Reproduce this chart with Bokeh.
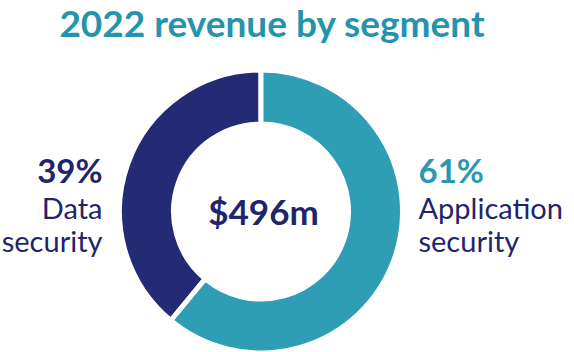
from bokeh.plotting import figure
from bokeh.models import ColumnDataSource, Range1d
from bokeh.core.properties import value
from bokeh.embed import file_html
from bokeh.resources import INLINE
import math

# ---- data ----
title_text = "2022 revenue by segment"
total_label = "$496m"
segments = ["Data security", "Application security"]
seg_line1 = ["Data", "Application"]
seg_line2 = ["security", "security"]
shares = [39, 61]
colors = ["#252a74", "#2f9db3"]
pct_colors = ["#1f246b", "#2a98ae"]

W, H = 574, 352
FONT = "Lato"
cx, cy = 260.5, H - 211
r_out, r_in = 139, 90
gap = 5

p = figure(width=W, height=H, output_backend="svg", toolbar_location=None,
           x_range=Range1d(0, W), y_range=Range1d(0, H), min_border=0)
p.axis.visible = False
p.grid.visible = False
p.outline_line_color = None
p.background_fill_color = "white"
p.border_fill_color = "white"

# donut: first segment anticlockwise from top, second fills the rest
total = sum(shares)
starts, ends = [], []
a = math.pi / 2
for s in shares:
    span = 2 * math.pi * s / total
    starts.append(a)
    ends.append(a + span)
    a += span
src = ColumnDataSource(dict(start=starts, end=ends, color=colors))
p.annular_wedge(x=cx, y=cy, inner_radius=r_in - gap / 2, outer_radius=r_out + gap / 2,
                start_angle="start", end_angle="end", fill_color="color",
                line_color="white", line_width=gap, source=src,
                inner_radius_units="screen", outer_radius_units="screen")


def ty(baseline, fs):
    # screen baseline -> data y (empirical correction for renderer offset)
    return H - (baseline - 0.33 * fs)


# title
p.text(x=[272], y=[ty(34, 37)], text=[title_text], text_font=value(FONT),
       text_font_style="bold", text_font_size="37px", text_color="#2593ab",
       text_align="center", text_baseline="alphabetic")

# centre total
p.text(x=[263], y=[ty(222, 35)], text=[total_label], text_font=value(FONT),
       text_font_style="bold", text_font_size="35px", text_color="#1f246b",
       text_align="center", text_baseline="alphabetic")

# segment labels
lx = [102, 418]
aligns = ["right", "left"]
pct_src = ColumnDataSource(dict(x=lx, y=[ty(180, 33)] * 2, t=[f"{s}%" for s in shares],
                                c=pct_colors, a=aligns))
p.text(x="x", y="y", text="t", text_color="c", text_align="a", source=pct_src,
       text_font=value(FONT), text_font_style="bold", text_font_size="33px",
       text_baseline="alphabetic")
l1_src = ColumnDataSource(dict(x=lx, y=[ty(217, 29)] * 2, t=seg_line1, a=aligns))
p.text(x="x", y="y", text="t", text_align="a", source=l1_src, text_color="#1f246b",
       text_font=value(FONT), text_font_size="29px", text_baseline="alphabetic")
l2_src = ColumnDataSource(dict(x=lx, y=[ty(250, 29)] * 2, t=seg_line2, a=aligns))
p.text(x="x", y="y", text="t", text_align="a", source=l2_src, text_color="#1f246b",
       text_font=value(FONT), text_font_size="29px", text_baseline="alphabetic")

open("out.html", "w").write(file_html(p, INLINE))
